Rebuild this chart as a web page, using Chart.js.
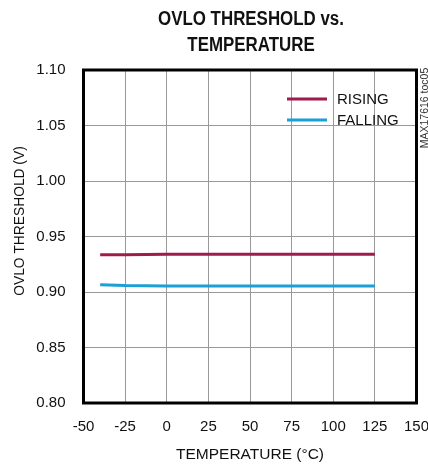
<!DOCTYPE html>
<html>
<head>
<meta charset="utf-8">
<script src="https://cdn.jsdelivr.net/npm/chart.js@4/dist/chart.umd.min.js"></script>
<style>
  body { margin: 0; background: #fff; }
</style>
</head>
<body>
<canvas id="chart" width="428" height="467"></canvas>
<script>
// data
const temps = [-40, -25, 0, 25, 50, 75, 100, 125];
const rising = [0.9335, 0.9335, 0.934, 0.934, 0.934, 0.934, 0.934, 0.934];
const falling = [0.9065, 0.9058, 0.9055, 0.9055, 0.9055, 0.9055, 0.9055, 0.9055];
const seriesNames = ['RISING', 'FALLING'];
const seriesColors = ['#9e1b4b', '#1a9fd6'];
const xTicks = { min: -50, max: 150, step: 25 };
const yTicks = { min: 0.80, max: 1.10, step: 0.05 };
const titleLines = ['OVLO THRESHOLD vs.', 'TEMPERATURE'];

const FONT = '"Liberation Sans", Arial, sans-serif';

const toPoints = (ys) => temps.map((t, i) => ({ x: t, y: ys[i] }));

// title, frame, legend, y title and side note
const extras = {
  id: 'extras',
  afterDatasetsDraw(chart) {
    const { ctx, chartArea: a } = chart;
    ctx.save();
    ctx.strokeStyle = '#000';
    ctx.lineWidth = 3;
    ctx.strokeRect(a.left, a.top, a.right - a.left, a.bottom - a.top);

    // legend
    ctx.font = '15px ' + FONT;
    ctx.textBaseline = 'middle';
    ctx.textAlign = 'left';
    chart.data.datasets.forEach((ds, i) => {
      const y = 99 + i * 21;
      ctx.strokeStyle = ds.borderColor;
      ctx.lineWidth = 3;
      ctx.beginPath();
      ctx.moveTo(287, y);
      ctx.lineTo(327, y);
      ctx.stroke();
      ctx.fillStyle = '#111';
      ctx.fillText(ds.label, 337, y + 1);
    });
    ctx.restore();

    // narrow bold title
    ctx.save();
    ctx.font = 'bold 20px ' + FONT;
    ctx.fillStyle = '#111';
    ctx.textAlign = 'center';
    ctx.textBaseline = 'alphabetic';
    titleLines.forEach((line, i) => {
      ctx.save();
      ctx.translate(251, 25 + i * 26);
      ctx.scale(0.845, 1);
      ctx.fillText(line, 0, 0);
      ctx.restore();
    });
    ctx.restore();

    // y axis title
    ctx.save();
    ctx.font = '15px ' + FONT;
    ctx.fillStyle = '#111';
    ctx.translate(20, 221);
    ctx.rotate(-Math.PI / 2);
    ctx.scale(0.92, 1);
    ctx.textAlign = 'center';
    ctx.textBaseline = 'middle';
    ctx.fillText('OVLO THRESHOLD (V)', 0, 0);
    ctx.restore();

    // side note
    ctx.save();
    ctx.translate(425, 108);
    ctx.rotate(-Math.PI / 2);
    ctx.font = '10.5px ' + FONT;
    ctx.fillStyle = '#333';
    ctx.textAlign = 'center';
    ctx.textBaseline = 'middle';
    ctx.fillText('MAX17616 toc05', 0, 0);
    ctx.restore();
  }
};

new Chart(document.getElementById('chart'), {
  type: 'line',
  data: {
    datasets: [
      { label: seriesNames[0], data: toPoints(rising), borderColor: seriesColors[0] },
      { label: seriesNames[1], data: toPoints(falling), borderColor: seriesColors[1] }
    ]
  },
  options: {
    responsive: false,
    animation: false,
    layout: { padding: { left: 0, right: 0, top: 70, bottom: 0 } },
    elements: {
      line: { borderWidth: 3, tension: 0, fill: false },
      point: { radius: 0 }
    },
    plugins: {
      legend: { display: false },
      tooltip: { enabled: false },
      title: { display: false }
    },
    scales: {
      x: {
        type: 'linear',
        min: xTicks.min,
        max: xTicks.max,
        afterFit: (s) => { s.height = 64; s.paddingRight = 11.5; },
        ticks: {
          stepSize: xTicks.step,
          color: '#111',
          font: { family: FONT, size: 15 },
          padding: 15,
          maxRotation: 0
        },
        grid: { color: '#999', lineWidth: 1, drawTicks: false },
        border: { display: false },
        title: {
          display: true,
          text: 'TEMPERATURE (°C)',
          color: '#111',
          font: { family: FONT, size: 15.5 },
          padding: { top: 0, bottom: 3 }
        }
      },
      y: {
        min: yTicks.min,
        max: yTicks.max,
        afterFit: (s) => { s.width = 83.5; s.paddingTop = 0; },
        ticks: {
          stepSize: yTicks.step,
          color: '#111',
          font: { family: FONT, size: 15 },
          padding: 18,
          callback: (v) => Number(v).toFixed(2)
        },
        grid: { color: '#999', lineWidth: 1, drawTicks: false },
        border: { display: false }
      }
    }
  },
  plugins: [extras]
});
</script>
</body>
</html>
